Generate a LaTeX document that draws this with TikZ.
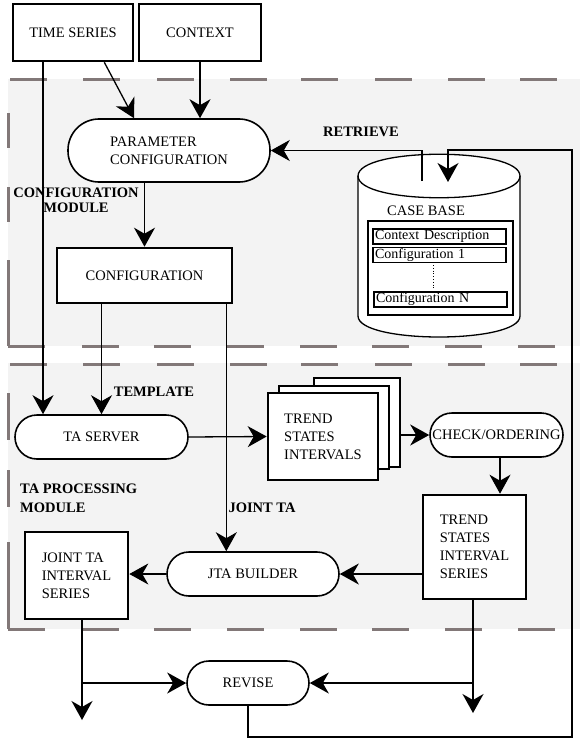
\documentclass[tikz,border=0pt]{standalone}
\usepackage{fontspec}
\setmainfont{Liberation Serif}
\usetikzlibrary{arrows.meta}
\definecolor{modgray}{RGB}{243,243,243}
\definecolor{dashgray}{RGB}{130,120,120}
\tikzset{
  every node/.style={font=\fontsize{14.5}{18}\selectfont},
  thickbox/.style={draw, line width=2.6pt, fill=white, inner sep=0pt, align=left},
  pill/.style={draw, line width=1.6pt, fill=white, inner sep=0pt, align=left},
  rowbox/.style={draw, line width=1.2pt, fill=white, inner xsep=2pt, inner ysep=0pt, minimum height=15pt, align=left, font=\fontsize{14}{15}\selectfont},
  conn/.style={line width=1.3pt, -{Stealth[length=19pt,width=21pt,inset=6pt]}},
  lbl/.style={font=\fontsize{14.5}{15}\selectfont\bfseries, inner sep=0pt},
  modline/.style={dashgray, line width=3pt}
}
\begin{document}
\begin{tikzpicture}[x=1pt,y=-1pt]
\useasboundingbox (0,0) rectangle (580,738);
% module backgrounds
\fill[modgray] (8,79) rectangle (580,346);
\fill[modgray] (8,363) rectangle (580,629);
% module frames (dashed)
\foreach \x in {10,83,157,230,301,375,448,520} {
  \draw[modline] (\x,80) -- ++(37,0);
  \draw[modline] (\x,364) -- ++(37,0);
}
\foreach \x in {8,82,154,227,300,372,445,518} {
  \draw[modline] (\x,346) -- ++(37,0);
  \draw[modline] (\x,629) -- ++(37,0);
}
\draw[modline] (8,113) -- (8,148);
\draw[modline] (8,187) -- (8,222);
\draw[modline] (8,260) -- (8,346);
\draw[modline] (8,393) -- (8,440);
\draw[modline] (8,470) -- (8,507);
\draw[modline] (8,542) -- (8,629);

% labels
\node[lbl, align=center] (lcm) at (76,200) {CONFIGURATION\\MODULE};
\node[lbl, align=left, anchor=west, font=\fontsize{14.5}{19}\selectfont\bfseries] (ltp) at (20,498.5) {TA PROCESSING\\MODULE};
\node[lbl] (ltemp) at (154,392) {TEMPLATE};
\node[lbl] (ljta) at (262,508) {JOINT TA};
\node[lbl] (lret) at (361,132) {RETRIEVE};

% nodes
\node[thickbox, minimum width=120pt, minimum height=57pt] (ts) at (73,32.5) {TIME SERIES};
\node[thickbox, minimum width=122pt, minimum height=57pt] (ctx) at (200,32.5) {CONTEXT};
\node[pill, rounded corners=31pt, minimum width=202pt, minimum height=63pt] (param) at (169,150.5) {PARAMETER\\CONFIGURATION};
\node[thickbox, minimum width=175pt, minimum height=55pt] (config) at (144.5,275.5) {CONFIGURATION};
\node[pill, rounded corners=22pt, minimum width=173pt, minimum height=44pt] (taserver) at (101.5,437) {TA SERVER};
\node[thickbox, minimum width=86pt, minimum height=89pt] (back) at (357,422.5) {};
\node[thickbox, minimum width=110pt, minimum height=83pt] (mid) at (334,427.5) {};
\node[thickbox, minimum width=110pt, minimum height=87pt] (front) at (323,436.5) {TREND\\STATES\\INTERVALS};
\node[pill, rounded corners=22pt, minimum width=133pt, minimum height=44pt] (check) at (496.5,435) {CHECK/ORDERING};
\node[thickbox, minimum width=103pt, minimum height=104pt] (tsis) at (474.5,547) {TREND\\STATES\\INTERVAL\\SERIES};
\node[pill, rounded corners=22pt, minimum width=172pt, minimum height=44pt] (jta) at (253,574) {JTA BUILDER};
\node[thickbox, minimum width=103pt, minimum height=87pt] (jtiss) at (76.5,575.5) {JOINT TA\\INTERVAL\\SERIES};
\node[pill, rounded corners=22pt, minimum width=122pt, minimum height=44pt] (revise) at (248,683) {REVISE};

% case base cylinder
\filldraw[fill=white, line width=1.3pt] (358,176) .. controls (358,147) and (520,147) .. (520,176)
  -- (520,316) .. controls (520,344) and (358,344) .. (358,316) -- cycle;
\draw[line width=1.3pt] (358,176) .. controls (358,205) and (520,205) .. (520,176);
\node (cbl) at (426,211) {CASE BASE};
\node[draw, line width=1.2pt, fill=white, inner sep=0pt, minimum width=145pt, minimum height=94pt] (inner) at (440.5,268) {};
\node[rowbox, text width=129pt] (r1) at (439.5,236.5) {Context Description};
\node[rowbox, text width=129pt] (r2) at (439.5,255) {Configuration 1};
\node[rowbox, text width=129pt] (r3) at (440.5,299.5) {Configuration N};
\draw[dotted, line width=0.8pt] (433,265) -- (433,290);

% connector coordinates
\coordinate (tsa) at ([xshift=-30pt]ts.south east);
\coordinate (pa) at ([xshift=-35pt]param.north);
\coordinate (tsd) at ([xshift=-30pt]ts.south);
\coordinate (cfj) at ([xshift=-7pt]config.south east);
\coordinate (chk) at ([xshift=3.5pt]check.south);
\coordinate (jo) at ([xshift=5.5pt]jtiss.south);
\coordinate (out1) at (82,720);
\coordinate (to) at ([xshift=-1.5pt]tsis.south);
\coordinate (out2) at (473,713);
\coordinate (rt) at (422,181);
\coordinate (cbin) at (448,182);
\coordinate (fb1) at (572,737);
\coordinate (fb2) at (572,150);

% connectors
\draw[conn] (tsa) -- (pa);
\draw[conn] (ctx.south) -- (ctx.south |- param.north);
\draw[conn] (tsd) -- (tsd |- taserver.north);
\draw[conn] (config.north |- param.south) -- (config.north);
\draw[conn] (config.south -| taserver.north) -- (taserver.north);
\draw[conn] (cfj) -- (cfj |- jta.north);
\draw[conn] (taserver.east) -- (front.west);
\draw[conn] (back.east |- check.west) -- (check.west);
\draw[conn] (chk) -- (chk |- tsis.north);
\draw[conn] (tsis.west |- jta.east) -- (jta.east);
\draw[conn] (jta.west) -- (jtiss.east |- jta.west);
\draw[conn] (jo) -- (out1);
\draw[conn] (jo |- revise.west) -- (revise.west);
\draw[conn] (to) -- (out2);
\draw[conn] (to |- revise.east) -- (revise.east);
\draw[conn] (revise.south) -- (revise.south |- fb1) -- (fb1) -- (fb2) -- (cbin |- fb2) -- (cbin);
\draw[conn] (rt) -- (rt |- param.east) -- (param.east);
\end{tikzpicture}
\end{document}
